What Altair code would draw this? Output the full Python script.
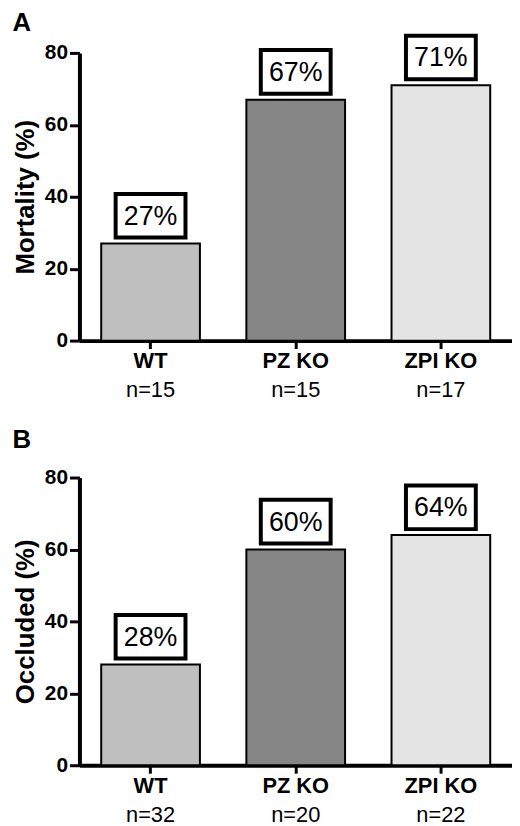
import altair as alt
import pandas as pd

# --- data ---
groups = ["WT", "PZ KO", "ZPI KO"]
mortality = [27, 67, 71]
mortality_n = [15, 15, 17]
occluded = [28, 60, 64]
occluded_n = [32, 20, 22]
bar_colors = ["#bfbfbf", "#858585", "#e5e5e5"]
y_ticks = [0, 20, 40, 60, 80]

FONT = "Liberation Sans"
# wide rectangle symbol for the percentage boxes
BOX_SHAPE = "M-1.6,-1L1.6,-1L1.6,1L-1.6,1Z"


def panel(values, ns, letter, y_title, title_offset):
    df = pd.DataFrame({
        "group": groups,
        "value": values,
        "pct": [f"{v}%" for v in values],
        "n": [f"n={n}" for n in ns],
    })

    x = alt.X("group:N", sort=groups, title=None,
              scale=alt.Scale(paddingInner=0.32, paddingOuter=0.15),
              axis=alt.Axis(labelAngle=0, labelFont=FONT, labelFontSize=22,
                            labelFontWeight="bold", labelColor="black",
                            labelPadding=2, tickSize=8, tickWidth=3,
                            tickColor="black", domainWidth=4,
                            domainColor="black"))
    y_scale = alt.Scale(domain=[0, 80], nice=False)

    base = alt.Chart(df).encode(x=x)

    bars = base.mark_bar(stroke="black", strokeWidth=2).encode(
        y=alt.Y("value:Q", scale=y_scale, title=y_title,
                axis=alt.Axis(values=y_ticks, grid=False, labelFont=FONT,
                              labelFontSize=21, labelFontWeight="bold",
                              labelColor="black", labelPadding=2,
                              tickSize=10, tickWidth=3, tickColor="black",
                              domainWidth=4, domainColor="black",
                              titleFont=FONT, titleFontSize=26,
                              titleFontWeight="bold", titleColor="black",
                              titlePadding=6)),
        color=alt.Color("group:N", scale=alt.Scale(domain=groups, range=bar_colors),
                        legend=None),
    )

    boxes = base.mark_point(shape=BOX_SHAPE, size=1936, filled=True,
                            fill="white", stroke="black", strokeWidth=4,
                            opacity=1, yOffset=-28).encode(
        y=alt.Y("value:Q", scale=y_scale))

    pct = base.mark_text(font=FONT, fontSize=27, color="black",
                         baseline="middle", yOffset=-27).encode(
        y=alt.Y("value:Q", scale=y_scale), text="pct:N")

    n_text = base.mark_text(font=FONT, fontSize=22, color="black",
                            baseline="alphabetic", dy=57).encode(
        y=alt.datum(0, scale=y_scale), text="n:N")

    return alt.layer(bars, boxes, pct, n_text).properties(
        width=436, height=290,
        title=alt.TitleParams(letter, anchor="start", frame="bounds",
                              font=FONT, fontSize=26, fontWeight="bold",
                              color="black", offset=title_offset),
    )


chart = alt.vconcat(
    panel(mortality, mortality_n, "A", "Mortality (%)", -8),
    panel(occluded, occluded_n, "B", "Occluded (%)", 14),
    spacing=26,
).properties(
    padding={"left": 4, "top": -2, "right": 0, "bottom": 0}
).configure_view(stroke=None)

chart.save("out.html", embed_options={"renderer": "svg", "actions": False})
